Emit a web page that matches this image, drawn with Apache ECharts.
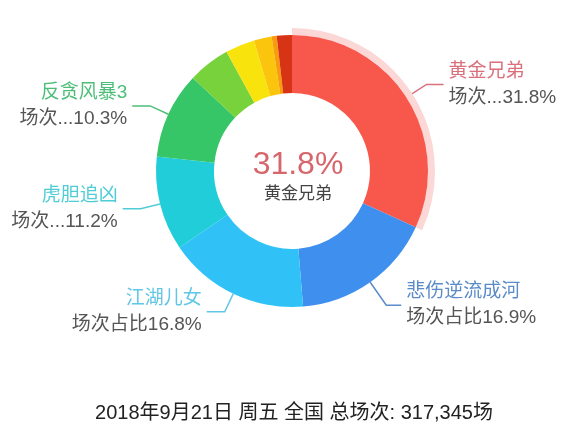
<!DOCTYPE html>
<html>
	<head>
		<meta charset="UTF-8">
		<title></title>
		<style>
			html, body{
				margin: 0;
				padding: 0;
				background: #fff;
			}
			#dContent{
				width: 588px;
				height: 442px;
			}
		</style>
	</head>
	<body>
		<div id="dContent"></div>
	</body>

	<script src="https://cdn.jsdelivr.net/npm/echarts@6/dist/echarts.min.js"></script>
	<script>
		// 影片名 / 场次占比(%)
		var movies = ['黄金兄弟', '悲伤逆流成河', '江湖儿女', '虎胆追凶', '反贪风暴3', '其他1', '其他2', '其他3', '其他4', '其他5'];
		var shares = [31.8, 16.9, 16.8, 11.2, 10.3, 5.0, 3.5, 2.1, 0.6, 1.8];
		var labelPrefix = ['场次...', '场次占比', '场次占比', '场次...', '场次...'];
		var sliceColors = ['#f8574b', '#3f8fef', '#30c2f7', '#22cdda', '#36c567', '#78d23c', '#f9e30c', '#fbc40d', '#f79d0c', '#d63414'];
		var nameColors = ['#d9707c', '#5b8bc8', '#62c6e6', '#4fcdd6', '#4dbe78'];
		var footText = '2018年9月21日 周五 全国 总场次: 317,345场';

		var font = '"Liberation Sans", "Noto Sans CJK SC", sans-serif';
		// 引导线长度微调
		var lineLen = { 0: [24, 17], 1: [28, 15] };

		var pieData = [];
		var haloData = [];
		for (var i = 0; i < movies.length; i++) {
			var hasLabel = i < labelPrefix.length;
			var ll = {
				show: hasLabel,
				lineStyle: { color: hasLabel ? nameColors[i] : '#ccc' }
			};
			if (lineLen[i]) {
				ll.length = lineLen[i][0];
				ll.length2 = lineLen[i][1];
			}
			pieData.push({
				name: movies[i],
				value: shares[i],
				itemStyle: { color: sliceColors[i] },
				label: { show: hasLabel },
				labelLine: ll
			});
			haloData.push({
				name: movies[i],
				value: shares[i],
				itemStyle: { color: i === 0 ? '#fbd7d6' : 'rgba(0,0,0,0)' }
			});
		}

		var oneChart = echarts.init(document.getElementById('dContent'));
		oneChart.setOption({
			animation: false,
			title: [{
				text: footText,
				left: 'center',
				top: 398,
				textStyle: { fontFamily: font, fontSize: 20, fontWeight: 'normal', color: '#222' }
			}, {
				text: shares[0].toFixed(1) + '%',
				subtext: movies[0],
				left: 293,
				top: 144,
				textAlign: 'center',
				itemGap: 5,
				textStyle: { fontFamily: font, fontSize: 32, fontWeight: 'normal', color: '#d7666c' },
				subtextStyle: { fontFamily: font, fontSize: 17, color: '#444' }
			}],
			series: [{
				type: 'pie',
				silent: true,
				center: [292, 171],
				radius: [136, 143],
				startAngle: 90,
				itemStyle: { borderWidth: 0 },
				label: { show: false },
				labelLine: { show: false },
				data: haloData
			}, {
				type: 'pie',
				center: [292, 171],
				radius: [78, 136],
				startAngle: 90,
				avoidLabelOverlap: true,
				itemStyle: { borderWidth: 0 },
				label: {
					position: 'outside',
					fontFamily: font,
					formatter: function (p) {
						return '{n' + p.dataIndex + '|' + p.name + '}\n{v|' + labelPrefix[p.dataIndex] + p.value.toFixed(1) + '%}';
					},
					rich: {
						n0: { fontSize: 19, color: nameColors[0], lineHeight: 26, fontFamily: font },
						n1: { fontSize: 19, color: nameColors[1], lineHeight: 26, fontFamily: font },
						n2: { fontSize: 19, color: nameColors[2], lineHeight: 26, fontFamily: font },
						n3: { fontSize: 19, color: nameColors[3], lineHeight: 26, fontFamily: font },
						n4: { fontSize: 19, color: nameColors[4], lineHeight: 26, fontFamily: font },
						v: { fontSize: 19, color: '#555', lineHeight: 26, fontFamily: font }
					}
				},
				labelLine: {
					length: 20,
					length2: 18,
					lineStyle: { width: 1.5 }
				},
				data: pieData
			}]
		});
	</script>
</html>
